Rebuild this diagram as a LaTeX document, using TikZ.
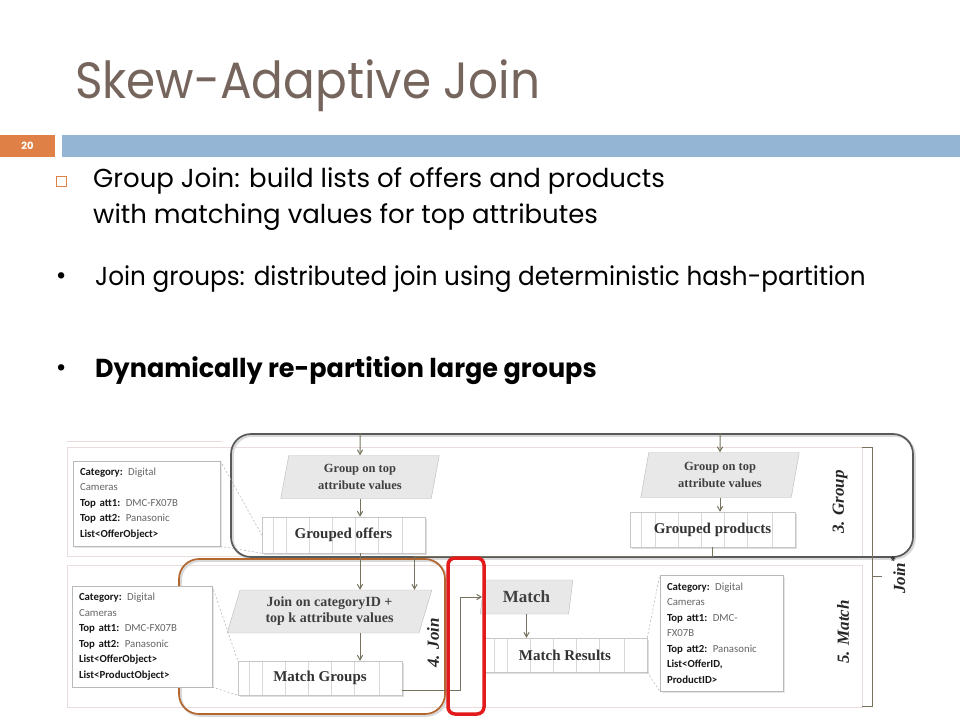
\documentclass[tikz,border=0pt]{standalone}
\usepackage{fontspec}
\setmainfont{Liberation Serif}
\newfontfamily\slidefont{Poppins}
\newfontfamily\titlefont[FakeStretch=0.92]{Poppins}
\newfontfamily\slidecond[FakeStretch=0.95]{Poppins}
\newfontfamily\boldcond[FakeStretch=0.98]{Poppins}
\newfontfamily\boxfont{Carlito}
\usetikzlibrary{arrows,positioning,shadows,shapes,calc}
\usepackage{xcolor}
\definecolor{titlegray}{HTML}{76655D}
\definecolor{numorange}{HTML}{DF8146}
\definecolor{barblue}{HTML}{94B5D3}
\definecolor{flowline}{HTML}{77735F}
\definecolor{joinbrown}{HTML}{B3672E}
\definecolor{bandpink}{HTML}{EBDCDC}
\definecolor{markred}{HTML}{E31A1C}
\newcommand{\lab}[1]{{\bfseries\color{black!90}#1}}

\begin{document}
\begin{tikzpicture}[x=1pt,y=-1pt,>=angle 60,
      flow/.style={->,flowline,line width=1pt},
      para node/.style={trapezium,trapezium stretches=true,
          trapezium left angle=80,trapezium right angle=100,
          draw=gray!55,fill=gray!18,align=center,inner sep=1pt,text=black!75,
          font=\bfseries\fontsize{12.5}{17}\selectfont},
      cell node/.style={rectangle,draw=gray!45,fill=white,text=black!80,
          drop shadow={opacity=0.25,shadow xshift=1.5pt,shadow yshift=-1.5pt},
          font=\bfseries\fontsize{15}{15}\selectfont,
          path picture={\foreach \f in {0.07,0.15,0.29,0.43,0.57,0.71,0.86}
              \draw[gray!30] ($(path picture bounding box.north west)!\f!(path picture bounding box.north east)$)
              -- ($(path picture bounding box.south west)!\f!(path picture bounding box.south east)$);}},
      info node/.style={rectangle,draw=gray!55,fill=white,align=left,inner sep=7pt,
          drop shadow={opacity=0.2,shadow xshift=1.5pt,shadow yshift=-1.5pt},
          text=black!60,font=\boxfont\fontsize{10.8}{15.5}\selectfont},
      frame node/.style={rectangle,rounded corners=20pt,line width=1.7pt,
          preaction={draw=black!15,line width=2.5pt,transform canvas={shift={(1.5pt,-1.5pt)}}}},
      step label/.style={rotate=90,font=\bfseries\itshape\fontsize{17}{17}\selectfont,text=black!85},
      band/.style={draw=bandpink,line width=0.8pt},
      hint/.style={gray!55,dash pattern=on 2pt off 2pt,line width=0.6pt}]

    % slide header
    \useasboundingbox (0,0) rectangle (960,720);
    \node[anchor=base west,inner sep=0,text=titlegray,
          font=\titlefont\fontsize{51}{51}\selectfont] (title) at (75,98) {Skew-Adaptive Join};
    \fill[numorange] (0,135) rectangle (55,157);
    \fill[barblue] (62,135) rectangle (960,157);
    \node[text=white,font=\slidefont\bfseries\fontsize{10}{10}\selectfont] (num) at (27.5,146) {20};

    % bullets
    \node[draw=numorange,line width=0.9pt,minimum size=10pt,inner sep=0] (sq) at (61,181) {};
    \node[anchor=base west,inner sep=0,font=\slidefont\fontsize{26}{26}\selectfont]
        (b1) at (93,187) {Group Join: build lists of offers and products};
    \node[anchor=base west,inner sep=0,font=\slidefont\fontsize{26}{26}\selectfont]
        (b1b) at (93,223) {with matching values for top attributes};
    \node[anchor=base west,inner sep=0,font=\slidecond\fontsize{26}{26}\selectfont]
        (b2) at (95,285) {Join groups: distributed join using deterministic hash-partition};
    \node[anchor=base west,inner sep=0,font=\boldcond\bfseries\fontsize{26}{26}\selectfont]
        (b3) at (95,377) {Dynamically re-partition large groups};
    \node[font=\slidefont\fontsize{26}{26}\selectfont] at (b2.west) [left=25pt] {•};
    \node[font=\slidefont\fontsize{26}{26}\selectfont] at (b3.west) [left=25pt] {•};

    % bands
    \draw[band] (67,441) -- (222,441);
    \draw[band] (67,447) rectangle (862,556);
    \draw[band] (67,565) rectangle (862,707);

    % frames
    \node[frame node,draw=black!65,minimum width=682pt,minimum height=123pt] (grp) at (572,495.5) {};
    \node[frame node,draw=joinbrown,minimum width=266pt,minimum height=155pt] (jn) at (312,636.5) {};

    % group step
    \node[para node,minimum width=160pt,minimum height=43pt] (gp1) at (360,477) {Group on top\\attribute values};
    \node[cell node,minimum width=163pt,minimum height=36pt] (go) at (343.5,535) {Grouped offers};
    \node[para node,minimum width=160pt,minimum height=45pt] (gp2) at (720,475) {Group on top\\attribute values};
    \node[cell node,minimum width=165pt,minimum height=35pt] (gpr) at (712.5,529.5) {Grouped products};

    % join step
    \node[para node,minimum width=205pt,minimum height=43pt,trapezium left angle=73,trapezium right angle=107,
          font=\bfseries\fontsize{14}{16}\selectfont] (jp) at (329.5,611.5) {Join on categoryID +\\top k attribute values};
    \node[cell node,minimum width=164pt,minimum height=34pt] (mg) at (320,678) {Match Groups};

    % match step
    \node[para node,minimum width=93pt,minimum height=34pt,font=\bfseries\fontsize{17}{17}\selectfont] (mp) at (526.5,597) {Match};
    \node[cell node,minimum width=164pt,minimum height=34pt] (mr) at (565,655) {Match Results};

    % record boxes
    \node[info node,text width=133pt,minimum height=83pt] (inf1) at (146.5,503.5)
        {\lab{Category:} Digital\\Cameras\\\lab{Top att1:} DMC-FX07B\\\lab{Top att2:} Panasonic\\\lab{List<OfferObject>}};
    \node[info node,text width=126pt,minimum height=99pt] (inf2) at (142,636.5)
        {\lab{Category:} Digital\\Cameras\\\lab{Top att1:} DMC-FX07B\\\lab{Top att2:} Panasonic\\\lab{List<OfferObject>}\\\lab{List<ProductObject>}};
    \node[info node,text width=109pt,minimum height=116pt] (inf3) at (721.5,633)
        {\lab{Category:} Digital\\Cameras\\\lab{Top att1:} DMC-\\FX07B\\\lab{Top att2:} Panasonic\\\lab{List<OfferID,}\\\lab{ProductID>}};

    % step labels
    \node[step label] (s3) at (840,502) {3. Group};
    \node[step label] (s4) at (433,643) {4. Join};
    \node[step label] (s5) at (843,632) {5. Match};
    \node[step label] (sj) at (898,575) {Join\textsuperscript{*}};

    % connectors
    \draw[flow] (gp1 |- grp.north) -- (gp1.north);
    \draw[flow] (gp1.south) -- (gp1.south |- go.north);
    \draw[flow] (gp2 |- grp.north) -- (gp2.north);
    \draw[flow] (gp2.south) -- (gp2.south |- gpr.north);
    \draw[flow] (gp1 |- go.south) -- (gp1 |- jp.north);
    \draw[flow] (gpr.south) |- ($(jp.north)+(85,-33)$) -- ($(jp.north)+(85,0)$);
    \draw[flow] (gp1 |- jp.south) -- (gp1 |- mg.north);
    \draw[flow] ($(mg.east)+(0,12)$) -- ++(58,0) |- (mp.west);
    \draw[flow] (mp.south) -- (mp.south |- mr.north);

    \draw[hint] (inf1.north east) -- (go.west);
    \draw[hint] (inf1.south east) -- (go.south west);
    \draw[hint] (inf2.north east) -- (mg.north west);
    \draw[hint] (inf2.south east) -- (mg.south west);
    \draw[hint] (mr.north east) -- (inf3.north west);
    \draw[hint] (mr.south east) -- (inf3.south west);

    % join bracket
    \coordinate (jt) at (862,447);
    \coordinate (jb) at (862,706);
    \draw[flowline,line width=1pt] (jt) -- ++(10,0) |- (jb);
    \draw[flowline,line width=1pt] ($(jt)!0.5!(jb)+(10,0)$) -- ++(10,0);

    % re-partition mark
    \node[draw=markred,line width=3.5pt,rounded corners=7pt,minimum width=36pt,minimum height=156pt] (rep) at (466,636) {};

  \end{tikzpicture}
\end{document}
